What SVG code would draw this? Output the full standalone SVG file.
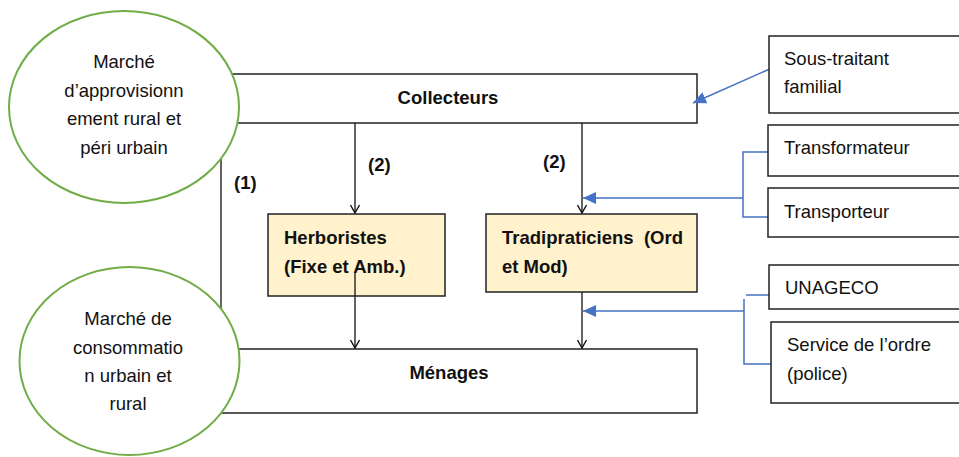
<svg xmlns="http://www.w3.org/2000/svg" width="959" height="457" viewBox="0 0 959 457">
<style>
.box{fill:#fff;stroke:#222;stroke-width:1.5}
.yel{fill:#FFF2CC;stroke:#222;stroke-width:1.5}
.ell{fill:#fff;stroke:#70AD47;stroke-width:2}
.t{font-family:"Liberation Sans",Arial,sans-serif;font-size:18.5px;fill:#111}
.c{text-anchor:middle}
.b{font-weight:bold}
.k{stroke:#111;stroke-width:1.3;fill:none}
.bl{stroke:#4472C4;stroke-width:1.5;fill:none}
</style>
<defs>
<marker id="ak" markerWidth="12" markerHeight="12" refX="11" refY="6" orient="auto" markerUnits="userSpaceOnUse" viewBox="0 0 12 12">
<path d="M3,1.5 L11,6 L3,10.5" fill="none" stroke="#111" stroke-width="1.4"/>
</marker>
<marker id="ab" markerWidth="14" markerHeight="12" refX="13" refY="6" orient="auto" markerUnits="userSpaceOnUse">
<path d="M0,0 L13,6 L0,12 z" fill="#4472C4"/>
</marker>
</defs>

<g id="collecteurs"><rect class="box" x="200" y="74" width="497" height="49"/><text class="t c b" x="448" y="104">Collecteurs</text></g>
<g id="menages"><rect class="box" x="200" y="349" width="497" height="64"/><text class="t c b" x="449" y="379">Ménages</text></g>

<g id="connectors">
<line class="k" x1="221" y1="123" x2="221" y2="349"/>
<line class="k" x1="355" y1="123" x2="355" y2="213" marker-end="url(#ak)"/>
<line class="k" x1="582" y1="123" x2="582" y2="213" marker-end="url(#ak)"/>
<line class="k" x1="355" y1="273" x2="355" y2="348" marker-end="url(#ak)"/>
<line class="k" x1="582" y1="292" x2="582" y2="348" marker-end="url(#ak)"/>
<line class="bl" x1="772" y1="68" x2="693" y2="103" marker-end="url(#ab)"/>
<polyline class="bl" points="769,152 743,152 743,217 769,217"/>
<line class="bl" x1="743" y1="198" x2="583" y2="198" marker-end="url(#ab)"/>
<line class="bl" x1="746" y1="295" x2="770" y2="295"/>
<polyline class="bl" points="744,299 744,364 771,364"/>
<line class="bl" x1="744" y1="311" x2="583" y2="311" marker-end="url(#ab)"/>
</g>

<g id="herboristes"><rect class="yel" x="268" y="214" width="177" height="82"/><text class="t b" x="284" y="244">Herboristes</text><text class="t b" x="284" y="273">(Fixe et Amb.)</text></g>
<g id="tradipraticiens"><rect class="yel" x="486" y="214" width="211" height="78"/><text class="t b" x="502" y="244" xml:space="preserve">Tradipraticiens  (Ord</text><text class="t b" x="502" y="273">et Mod)</text></g>
<line class="k" x1="355" y1="273" x2="355" y2="296"/>

<g id="marche-appro"><ellipse class="ell" cx="124" cy="107" rx="115" ry="96"/>
<text class="t c" x="124" y="68">Marché</text>
<text class="t c" x="124" y="97">d’approvisionn</text>
<text class="t c" x="124" y="125">ement rural et</text>
<text class="t c" x="124" y="154">péri urbain</text></g>

<g id="marche-conso"><ellipse class="ell" cx="129.5" cy="361" rx="110" ry="94"/>
<text class="t c" x="128" y="325">Marché de</text>
<text class="t c" x="128" y="354">consommatio</text>
<text class="t c" x="128" y="382">n urbain et</text>
<text class="t c" x="128" y="410">rural</text></g>

<text class="t b" x="234" y="189">(1)</text>
<text class="t b" x="368" y="171">(2)</text>
<text class="t b" x="543" y="168">(2)</text>

<g id="sous-traitant"><rect class="box" x="769" y="36" width="196" height="77"/><text class="t" x="784" y="65">Sous-traitant</text><text class="t" x="784" y="93">familial</text></g>
<g id="transformateur"><rect class="box" x="768" y="125" width="196" height="51"/><text class="t" x="784" y="154">Transformateur</text></g>
<g id="transporteur"><rect class="box" x="768" y="188" width="196" height="49"/><text class="t" x="784" y="218">Transporteur</text></g>
<g id="unageco"><rect class="box" x="769" y="265" width="196" height="44"/><text class="t" x="785" y="294">UNAGECO</text></g>
<g id="service"><rect class="box" x="771" y="322" width="196" height="81"/><text class="t" x="787" y="351">Service de l’ordre</text><text class="t" x="787" y="380">(police)</text></g>
</svg>
